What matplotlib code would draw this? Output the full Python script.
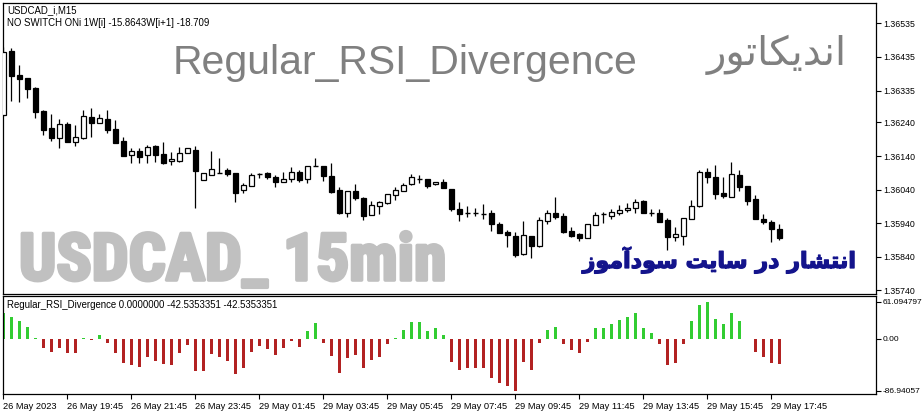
import matplotlib
matplotlib.use('Agg')
import matplotlib.pyplot as plt
from matplotlib import font_manager
import matplotlib.patheffects as pe
import numpy as np

# ---------------- data ----------------
opens = [1.36262, 1.36453, 1.36382, 1.36372, 1.36344, 1.36275, 1.36223, 1.36195, 1.36235, 1.36183,
         1.36194, 1.36256, 1.36237, 1.36250, 1.36220, 1.36185, 1.36142, 1.36155, 1.36142, 1.36170,
         1.36145, 1.36124, 1.36126, 1.36148, 1.36158, 1.36069, 1.36083, 1.36088, 1.36098, 1.36088,
         1.36039, 1.36051, 1.36085, 1.36088, 1.36077, 1.36063, 1.36071, 1.36093, 1.36071, 1.36110,
         1.36110, 1.36080, 1.36039, 1.35969, 1.36036, 1.36014, 1.35963, 1.35992, 1.35999, 1.36024,
         1.36037, 1.36056, 1.36071, 1.36071, 1.36056, 1.36062, 1.36042, 1.35982, 1.35969, 1.35969,
         1.35967, 1.35971, 1.35937, 1.35913, 1.35903, 1.35847, 1.35902, 1.35873, 1.35947, 1.35969,
         1.35961, 1.35916, 1.35907, 1.35896, 1.35934, 1.35967, 1.35961, 1.35971, 1.35979, 1.35986,
         1.36006, 1.35971, 1.35970, 1.35949, 1.35900, 1.35902, 1.35951, 1.35991, 1.36091, 1.36077,
         1.36029, 1.36019, 1.36083, 1.36051, 1.36012, 1.35952, 1.35944, 1.35922]
highs = [1.36466, 1.36461, 1.36411, 1.36373, 1.36345, 1.36277, 1.36265, 1.36250, 1.36241, 1.36231,
         1.36277, 1.36282, 1.36265, 1.36277, 1.36247, 1.36196, 1.36163, 1.36163, 1.36173, 1.36173,
         1.36182, 1.36151, 1.36166, 1.36163, 1.36170, 1.36090, 1.36155, 1.36133, 1.36103, 1.36088,
         1.36060, 1.36088, 1.36088, 1.36091, 1.36083, 1.36093, 1.36106, 1.36098, 1.36110, 1.36133,
         1.36110, 1.36118, 1.36048, 1.36036, 1.36057, 1.36017, 1.36006, 1.36006, 1.36026, 1.36048,
         1.36059, 1.36085, 1.36083, 1.36071, 1.36064, 1.36071, 1.36042, 1.36003, 1.35991, 1.35986,
         1.35997, 1.35979, 1.35942, 1.35919, 1.35913, 1.35946, 1.35902, 1.35957, 1.35979, 1.36017,
         1.35969, 1.35929, 1.35910, 1.35936, 1.35974, 1.35974, 1.35981, 1.35994, 1.35999, 1.36012,
         1.36009, 1.35982, 1.35981, 1.35954, 1.35928, 1.35954, 1.36009, 1.36098, 1.36103, 1.36113,
         1.36077, 1.36121, 1.36098, 1.36051, 1.36024, 1.35966, 1.35949, 1.35937]
lows = [1.36258, 1.36304, 1.36302, 1.36312, 1.36254, 1.36203, 1.36186, 1.36165, 1.36183, 1.36170,
        1.36191, 1.36196, 1.36237, 1.36209, 1.36179, 1.36140, 1.36120, 1.36118, 1.36120, 1.36122,
        1.36116, 1.36114, 1.36122, 1.36148, 1.35984, 1.36069, 1.36083, 1.36088, 1.36080, 1.36004,
        1.36031, 1.36051, 1.36075, 1.36071, 1.36048, 1.36063, 1.36063, 1.36063, 1.36060, 1.36110,
        1.36066, 1.36029, 1.35967, 1.35959, 1.36009, 1.35949, 1.35963, 1.35967, 1.35996, 1.36009,
        1.36037, 1.36054, 1.36059, 1.36044, 1.36054, 1.36044, 1.35977, 1.35947, 1.35957, 1.35962,
        1.35952, 1.35917, 1.35912, 1.35868, 1.35840, 1.35845, 1.35837, 1.35870, 1.35936, 1.35951,
        1.35911, 1.35898, 1.35888, 1.35896, 1.35934, 1.35939, 1.35951, 1.35964, 1.35974, 1.35969,
        1.35969, 1.35962, 1.35943, 1.35860, 1.35888, 1.35875, 1.35951, 1.35989, 1.36059, 1.36011,
        1.36014, 1.36017, 1.36037, 1.35994, 1.35951, 1.35937, 1.35885, 1.35890]
closes = [1.36451, 1.36379, 1.36370, 1.36341, 1.36272, 1.36217, 1.36195, 1.36234, 1.36183, 1.36197,
          1.36258, 1.36239, 1.36252, 1.36217, 1.36180, 1.36141, 1.36155, 1.36138, 1.36166, 1.36144,
          1.36119, 1.36131, 1.36148, 1.36163, 1.36096, 1.36090, 1.36101, 1.36088, 1.36085, 1.36031,
          1.36054, 1.36083, 1.36085, 1.36077, 1.36063, 1.36071, 1.36091, 1.36069, 1.36110, 1.36110,
          1.36080, 1.36034, 1.35971, 1.36036, 1.36014, 1.35961, 1.35993, 1.36002, 1.36026, 1.36039,
          1.36054, 1.36078, 1.36071, 1.36051, 1.36062, 1.36044, 1.35983, 1.35966, 1.35969, 1.35970,
          1.35967, 1.35936, 1.35912, 1.35906, 1.35845, 1.35906, 1.35873, 1.35949, 1.35969, 1.35959,
          1.35914, 1.35902, 1.35896, 1.35936, 1.35964, 1.35967, 1.35972, 1.35979, 1.35986, 1.36004,
          1.35969, 1.35971, 1.35943, 1.35900, 1.35907, 1.35954, 1.35992, 1.36091, 1.36078, 1.36026,
          1.36022, 1.36085, 1.36048, 1.36007, 1.35951, 1.35944, 1.35922, 1.35896]

rsi_div = [42.3, 35.6, 28.9, 18.9, 1.5, -16.1, -22.8, -16.1, -24.5, -24.5,
           1.5, -2.2, 5.6, -7.8, -24.5, -41.2, -44.5, -47.9, -31.2, -36.7,
           -42.9, -44.5, -24.5, -11.1, -53.4, -54.5, -25.6, -31.2, -37.8, -59.5,
           -49.5, -22.8, -12.8, -17.8, -27.8, -16.1, -4.5, -14.5, 12.2, 26.7,
           -7.8, -29.5, -57.9, -32.8, -27.8, -49.5, -36.2, -31.2, -9.5, 1.7,
           15.0, 28.4, 28.4, 12.2, 17.3, 5.6, -39.5, -51.8, -49.5, -49.5,
           -49.5, -66.2, -74.6, -79.6, -86.94, -39.5, -51.8, -6.7, 15.0, 18.9,
           -9.5, -19.5, -24.5, -5.0, 17.3, 17.3, 23.9, 30.6, 35.6, 42.3,
           17.3, 8.9, -9.5, -44.5, -41.2, -9.5, 28.9, 56.8, 61.09, 32.3,
           23.9, 42.3, 28.9, -1.1, -22.8, -31.2, -41.2, -42.54]

time_labels = ['26 May 2023', '26 May 19:45', '26 May 21:45', '26 May 23:45', '29 May 01:45',
               '29 May 03:45', '29 May 05:45', '29 May 07:45', '29 May 09:45', '29 May 11:45',
               '29 May 13:45', '29 May 15:45', '29 May 17:45']
time_label_bars = [0, 8, 16, 24, 32, 40, 48, 56, 64, 72, 80, 88, 96]

price_ticks = [1.36535, 1.36435, 1.36335, 1.36240, 1.36140, 1.36040, 1.35940, 1.35840, 1.35740]
ind_ticks = [61.094797, 0.0, -86.94057]
ind_tick_labels = ['61.094797', '0.00', '-86.94057']

# ---------------- fonts ----------------
available = {f.name for f in font_manager.fontManager.ttflist}
condensed = None
for cand in ['Roboto Condensed', 'Liberation Sans Narrow', 'Open Sans Condensed',
             'DejaVu Sans Condensed', 'Arial Narrow']:
    if cand in available:
        condensed = cand
        break
if condensed is None:
    big_family, big_stretch = 'DejaVu Sans', 'condensed'
else:
    big_family, big_stretch = condensed, 'normal'

# ---------------- layout ----------------
W, H = 922, 416
fig = plt.figure(figsize=(W / 100, H / 100), dpi=100)
fig.patch.set_facecolor('white')

def rect(x0, y0, x1, y1):
    return [x0 / W, 1 - y1 / H, (x1 - x0) / W, (y1 - y0) / H]

ax = fig.add_axes(rect(2.7, 2.7, 876, 294))
axi = fig.add_axes(rect(2.7, 296, 876, 394))

n = len(opens)
x = np.arange(n)
o = np.array(opens); h = np.array(highs); l = np.array(lows); c = np.array(closes)

xlim = (-0.075, 109.09)
small = dict(family=['Liberation Sans', 'DejaVu Sans'], color='black')

# candles
ax.vlines(x, l, h, color='black', linewidth=0.9, zorder=2)
bw = 0.62
for i in range(n):
    lo_, hi_ = min(o[i], c[i]), max(o[i], c[i])
    if hi_ - lo_ < 0.000015:
        ax.hlines(o[i], i - bw / 2, i + bw / 2, color='black', linewidth=1.0, zorder=3)
    else:
        fc = 'white' if c[i] > o[i] else 'black'
        ax.add_patch(plt.Rectangle((i - bw / 2, lo_), bw, hi_ - lo_, facecolor=fc,
                                   edgecolor='black', linewidth=0.9, zorder=3))

ax.set_xlim(*xlim)
ax.set_ylim(1.357288, 1.365968)
ax.set_xticks([])
ax.yaxis.tick_right()
ax.set_yticks(price_ticks)
ax.set_yticklabels([f'{p:.5f}' for p in price_ticks])
ax.tick_params(axis='y', direction='out', length=3.5, width=0.8, pad=1.5, labelsize=6.3)
for lab in ax.get_yticklabels():
    lab.set_family(['Liberation Sans', 'DejaVu Sans'])
for s in ax.spines.values():
    s.set_linewidth(0.9)

# texts on main chart
fig.text(7 / W, 1 - 10.5 / H, 'USDCAD_i,M15', fontsize=6.9, va='center', ha='left', **small)
fig.text(7 / W, 1 - 23.5 / H, 'NO SWITCH ONi 1W[i] -15.8643W[i+1] -18.709', fontsize=6.9,
         va='center', ha='left', **small)

t_title = fig.text(173 / W, 1 - 74 / H, 'Regular_RSI_Divergence', fontsize=30, color='#808080',
                   family=['Liberation Sans', 'DejaVu Sans'], ha='left', va='baseline')
# "اندیکاتور" written in presentation forms, visual order
t_ar1 = fig.text(847 / W, 1 - 65 / H, '\uFEAD\uFEEE\uFE97\uFE8E\uFB91\uFBFE\uFEAA\uFEE7\uFE8D',
                 fontsize=30, color='#808080', family=['DejaVu Sans'], ha='right', va='baseline')

t_big = fig.text(19 / W, 1 - 280 / H, 'USDCAD_ 15min', fontsize=48, color='#C0C0C0',
                 fontweight='heavy', family=[big_family, 'DejaVu Sans'], fontstretch=big_stretch,
                 ha='left', va='baseline',
                 path_effects=[pe.withStroke(linewidth=2.6, foreground='#C0C0C0')])
# "انتشار در سایت سودآموز" in presentation forms, visual order
t_ar2 = fig.text(857 / W, 1 - 268 / H,
                 '\uFEAF\uFEEE\uFEE3\uFE81\uFEA9\uFEEE\uFEB3 \uFE96\uFBFE\uFE8E\uFEB3 \uFEAD\uFEA9 \uFEAD\uFE8E\uFEB8\uFE98\uFEE7\uFE8D',
                 fontsize=18, color='#14148C', fontweight='bold', family=['DejaVu Sans'],
                 ha='right', va='baseline',
                 path_effects=[pe.withStroke(linewidth=0.9, foreground='#14148C')])

# ---------------- indicator ----------------
v = np.array(rsi_div)
cols = np.where(v >= 0, '#32CD32', '#B22222')
axi.bar(x, v, width=0.36, color=cols, linewidth=0, zorder=2)
axi.set_xlim(*xlim)
axi.set_ylim(-92.5, 71.1)
axi.yaxis.tick_right()
axi.set_yticks(ind_ticks)
axi.set_yticklabels(ind_tick_labels)
axi.tick_params(axis='y', direction='out', length=3.5, width=0.8, pad=1.2, labelsize=6.0)
for lab in axi.get_yticklabels():
    lab.set_family(['Liberation Sans', 'DejaVu Sans'])
axi.set_xticks(time_label_bars)
axi.set_xticklabels(time_labels, ha='left')
axi.tick_params(axis='x', direction='out', length=3.5, width=0.8, pad=2, labelsize=6.7)
for lab in axi.get_xticklabels():
    lab.set_family(['Liberation Sans', 'DejaVu Sans'])
    lab.set_horizontalalignment('left')
for s in axi.spines.values():
    s.set_linewidth(0.9)

fig.text(7 / W, 1 - 305.5 / H, 'Regular_RSI_Divergence 0.0000000 -42.5353351 -42.5353351',
         fontsize=6.9, va='center', ha='left', **small)

# fit the big overlay texts to the widths they have in the screenshot
fig.canvas.draw()
rend = fig.canvas.get_renderer()
for t, target in [(t_title, 465), (t_ar1, 140), (t_big, 427), (t_ar2, 274)]:
    wpx = t.get_window_extent(rend).width
    t.set_fontsize(t.get_fontsize() * target / wpx)

fig.savefig('out.png', dpi=100, facecolor='white')
